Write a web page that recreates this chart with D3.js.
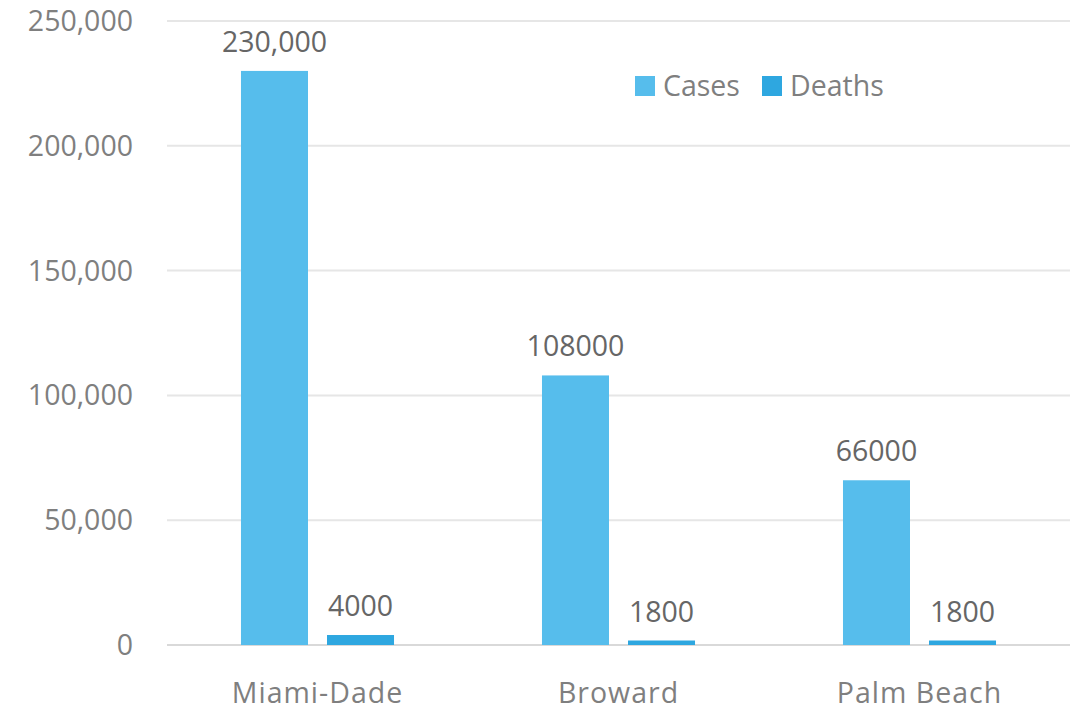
<!DOCTYPE html>
<html>
<head>
<meta charset="utf-8">
<script src="https://cdn.jsdelivr.net/npm/d3@7"></script>
<style>
html,body{margin:0;padding:0;background:#fff;}
svg text{font-family:"Open Sans","Noto Sans",sans-serif;}
</style>
</head>
<body>
<svg id="chart" width="1077" height="710"></svg>
<script>
const categories = ["Miami-Dade", "Broward", "Palm Beach"];
const seriesNames = ["Cases", "Deaths"];
const cases = [230000, 108000, 66000];
const deaths = [4000, 1800, 1800];
const caseLabels = ["230,000", "108000", "66000"];
const deathLabels = ["4000", "1800", "1800"];
const yTicks = [0, 50000, 100000, 150000, 200000, 250000];
const colors = ["#56BDEC", "#2EA7E0"];

const svg = d3.select("#chart");
const mLeft = 167, mRight = 1070, mTop = 21, mBottom = 645;
const fs = 28.5;

const x0 = d3.scaleBand().domain(categories).range([mLeft, mRight]).padding(0);
const x1 = d3.scaleBand().domain(seriesNames).range([0, x0.bandwidth()])
  .paddingInner(19/86).paddingOuter(0.86);
const y = d3.scaleLinear().domain([0, 250000]).range([mBottom, mTop]);

// gridlines
svg.append("g").selectAll("line").data(yTicks).join("line")
  .attr("x1", mLeft).attr("x2", mRight)
  .attr("y1", d => y(d)).attr("y2", d => y(d))
  .attr("stroke", d => d === 0 ? "#d9d9d9" : "#e6e6e6")
  .attr("stroke-width", 2);

// y axis labels
const fmt = d3.format(",");
svg.append("g").selectAll("text").data(yTicks).join("text")
  .attr("x", 133).attr("y", d => y(d))
  .attr("dy", "0.35em").attr("text-anchor", "end")
  .attr("font-size", fs).attr("fill", "#7f7f7f")
  .text(d => fmt(d));

const rows = categories.map((c, i) => ({
  cat: c,
  vals: [
    {s: "Cases", v: cases[i], label: caseLabels[i], color: colors[0]},
    {s: "Deaths", v: deaths[i], label: deathLabels[i], color: colors[1]}
  ]
}));

const g = svg.append("g").selectAll("g").data(rows).join("g")
  .attr("transform", d => `translate(${x0(d.cat)},0)`);

g.selectAll("rect").data(d => d.vals).join("rect")
  .attr("x", d => x1(d.s)).attr("width", x1.bandwidth())
  .attr("y", d => y(d.v)).attr("height", d => y(0) - y(d.v))
  .attr("fill", d => d.color);

g.selectAll("text.lbl").data(d => d.vals).join("text")
  .attr("class", "lbl")
  .attr("x", d => x1(d.s) + x1.bandwidth()/2)
  .attr("y", d => y(d.v) - 19)
  .attr("text-anchor", "middle")
  .attr("font-size", fs).attr("fill", "#666")
  .text(d => d.label);

// category labels
svg.append("g").selectAll("text").data(categories).join("text")
  .attr("x", d => x0(d) + x0.bandwidth()/2)
  .attr("y", 693).attr("dy", "0.35em")
  .attr("text-anchor", "middle")
  .attr("font-size", fs).attr("fill", "#7f7f7f")
  .attr("letter-spacing", 1)
  .text(d => d);

// legend
const legendX = [635, 762];
const leg = svg.append("g").selectAll("g").data(seriesNames).join("g")
  .attr("transform", (d, i) => `translate(${legendX[i]},76)`);
leg.append("rect").attr("width", 20).attr("height", 20)
  .attr("fill", (d, i) => colors[i]);
leg.append("text").attr("x", 28).attr("y", 10).attr("dy", "0.35em")
  .attr("font-size", fs).attr("fill", "#7f7f7f")
  .text(d => d);
</script>
</body>
</html>
